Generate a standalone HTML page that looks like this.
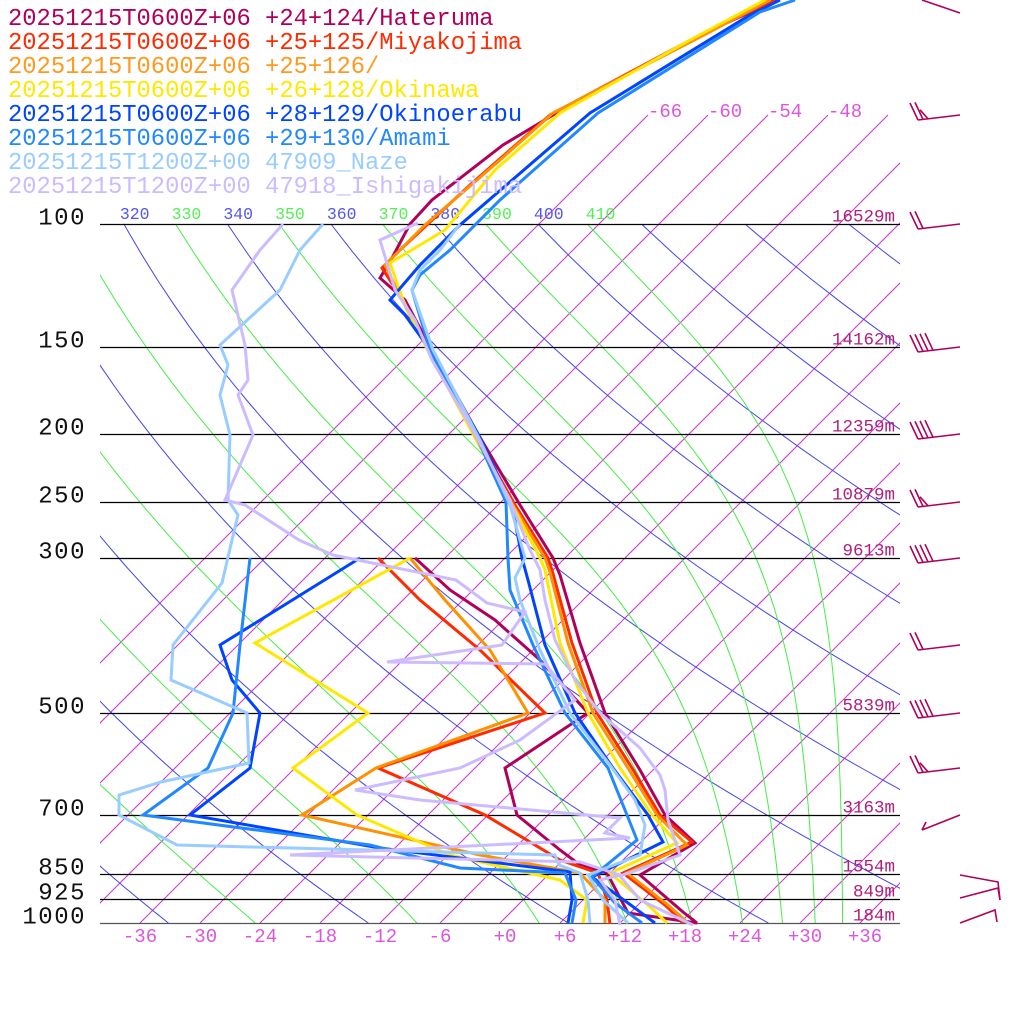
<!DOCTYPE html>
<html><head><meta charset="utf-8"><style>
html,body{margin:0;padding:0;background:#fff;}
svg{display:block;}
</style></head><body>
<svg id="s" width="1024" height="1024" xmlns="http://www.w3.org/2000/svg" font-family="Liberation Mono, monospace">
<defs>
<clipPath id="plot"><rect x="100" y="0" width="800" height="923.5"/></clipPath>
<clipPath id="lab"><rect x="100" y="195" width="800" height="30"/></clipPath>
</defs>
<rect width="1024" height="1024" fill="#fff"/>
<g id="bg" clip-path="url(#plot)"></g>
<g id="labs" clip-path="url(#lab)" font-size="16.5"></g>
<g id="hl"></g>
<g id="series" fill="none" stroke-width="3" stroke-linejoin="miter"></g>
<g id="txt"></g>
</svg>
<script>
var NS="http://www.w3.org/2000/svg";
function el(parent,tag,attrs,text){var e=document.createElementNS(NS,tag);for(var k in attrs)e.setAttribute(k,attrs[k]);if(text!==undefined)e.textContent=text;document.getElementById(parent).appendChild(e);return e;}
function Y(p){return 224+303.6*Math.log(p/100);}
function X(T,y){return 500+10*T+(923-y);}
// isotherms
for(var T=-66;T<=66;T+=6){
  var y1=923,y2=115;
  el("bg","line",{x1:X(T,y1),y1:y1,x2:X(T,y2),y2:y2,stroke:"#cc33cc","stroke-width":1});
}
function polyStr(pts){return pts.map(function(p){return p[0].toFixed(1)+","+p[1].toFixed(1);}).join(" ");}
for(var th=240;th<=520;th+=20){
  var pts=[];
  for(var p=100;p<=1000;p+=10){var t=th*Math.pow(p/1000,0.286)-273.15;var y=Y(p);pts.push([X(t,y),y]);}
  el("bg","polyline",{points:polyStr(pts),fill:"none",stroke:"#4444ee","stroke-width":1});
}
function thetae(Tk,p){var tc=Tk-273.15;var es=6.112*Math.exp(17.67*tc/(tc+243.5));var rs=0.622*es/Math.max(p-es,1);return Tk*Math.pow(1000/p,0.286)*Math.exp(2.5e6*rs/(1004*Tk));}
for(var te=250;te<=410;te+=20){
  var pts=[];
  for(var p=100;p<=1000;p+=10){
    var lo=150,hi=330;
    for(var i=0;i<50;i++){var m=(lo+hi)/2;if(thetae(m,p)>te)hi=m;else lo=m;}
    var y=Y(p);pts.push([X(lo-273.15,y),y]);
  }
  el("bg","polyline",{points:polyStr(pts),fill:"none",stroke:"#44ee44","stroke-width":1});
}
for(var th=310;th<=410;th+=10){
  var Tk=th*Math.pow(0.1,0.286);var x=X(Tk-273.15,224);
  var col=(th%20==10)?"#55ee55":"#5555ee";
  el("labs","text",{x:x-4,y:219,fill:col},String(th));
}
var plev=[[100,"16529m"],[150,"14162m"],[200,"12359m"],[250,"10879m"],[300,"9613m"],[500,"5839m"],[700,"3163m"],[850,"1554m"],[925,"849m"],[1000,"184m"]];
plev.forEach(function(a){var y=Math.round(Y(a[0]))+0.5;
  el("hl","line",{x1:100,y1:y,x2:900,y2:y,stroke:a[0]==1000?"#555":"#000","stroke-width":1.3});
  el("txt","text",{x:86,y:y,"font-size":24,"letter-spacing":"1.5","text-anchor":"end",fill:"#111"},String(a[0]));
  el("txt","text",{x:895,y:y-3,"font-size":17.5,"text-anchor":"end",fill:"#b0207a"},a[1]);
});
[-66,-60,-54,-48].forEach(function(T){el("txt","text",{x:X(T,115),y:117,"font-size":19,fill:"#dd55dd"},String(T));});
for(var T=-36;T<=36;T+=6){var s=(T>0?"+":(T==0?"+":""))+T;
  el("txt","text",{x:500+10*T+(T>=0?5:0),y:942,"font-size":19,"text-anchor":"middle",fill:"#dd55dd"},s);}
var S=[
["#b0005a",[[697,923],[683,912],[640,875],[695,843],[665,815],[640,770],[605,713],[580,643],[560,575],[553,558],[520,505],[478,434],[430,347],[405,300],[380,278],[392,258],[410,224],[432,200],[503,145],[553,115],[620,78],[700,35],[777,0]],
 [[697,923],[628,913],[607,873],[580,865],[560,850],[517,815],[505,768],[588,713],[540,660],[495,620],[450,590],[415,558]]],
["#ff2a00",[[684,923],[665,905],[623,873],[692,842],[660,815],[632,768],[597,713],[572,643],[552,570],[548,558],[515,505],[475,434],[428,347],[403,300],[382,268],[400,250],[430,222],[470,185],[550,115],[700,35],[775,0]],
 [[610,924],[607,900],[598,873],[560,860],[485,815],[378,768],[545,713],[480,650],[420,600],[378,558]]],
["#ff9000",[[688,923],[668,905],[627,873],[687,845],[657,815],[628,768],[593,713],[568,643],[550,572],[545,558],[513,505],[474,434],[427,347],[402,300],[385,265],[425,225],[500,160],[553,113],[700,37],[770,0]],
 [[605,923],[605,900],[580,873],[480,855],[302,815],[376,768],[528,713],[490,650],[445,600],[410,558]]],
["#ffe800",[[667,923],[648,905],[610,873],[677,843],[652,815],[620,768],[588,713],[560,643],[545,570],[540,558],[512,505],[473,434],[426,347],[403,300],[390,263],[445,230],[495,170],[560,113],[690,40],[765,0]],
 [[583,923],[587,900],[560,880],[450,855],[357,815],[293,768],[368,713],[255,643],[410,558]]],
["#0044ff",[[655,923],[628,903],[592,877],[663,842],[648,815],[613,768],[575,713],[545,645],[528,580],[522,558],[512,505],[478,434],[428,347],[405,315],[390,300],[420,265],[460,225],[590,113],[750,15],[780,0]],
 [[568,923],[572,900],[570,872],[380,848],[190,815],[250,768],[260,713],[232,680],[220,645],[360,558]]],
["#2288ff",[[642,923],[615,903],[592,877],[637,840],[627,815],[608,768],[565,713],[533,645],[510,590],[508,558],[506,502],[478,440],[430,350],[412,290],[420,275],[450,250],[500,200],[598,113],[760,12],[795,0]],
 [[572,923],[576,900],[565,873],[460,868],[370,845],[143,815],[208,768],[233,713],[240,645],[250,558]]],
["#99ccff",[[628,923],[603,900],[588,875],[640,855],[645,825],[635,800],[610,765],[570,713],[540,650],[520,600],[515,578],[525,558],[510,505],[480,440],[433,350],[412,290],[420,270],[440,250],[460,224]],
 [[590,923],[588,900],[580,873],[559,865],[555,855],[177,845],[119,815],[119,795],[161,782],[249,763],[247,713],[194,690],[171,680],[173,645],[222,583],[232,540],[238,515],[228,500],[230,435],[220,395],[228,365],[220,345],[280,290],[300,250],[323,224]]],
["#ccbbff",[[693,925],[640,900],[620,876],[680,855],[668,820],[665,790],[660,775],[640,748],[600,713],[575,680],[555,640],[545,600],[540,570],[530,550],[510,500],[475,434],[432,360],[415,320],[395,290],[380,240],[418,223]],
 [[620,925],[615,900],[600,880],[620,875],[580,862],[290,855],[630,838],[605,833],[620,818],[420,800],[355,790],[460,768],[520,740],[575,700],[545,664],[387,662],[502,645],[525,612],[487,603],[456,580],[333,555],[299,540],[245,505],[225,500],[253,435],[238,395],[248,380],[245,345],[232,290],[260,250],[283,224]]]
];
S.forEach(function(s){
  el("series","polyline",{points:polyStr(s[1]),stroke:s[0]});
  el("series","polyline",{points:polyStr(s[2]),stroke:s[0]});
});
var L=[["#b0005a","20251215T0600Z+06 +24+124/Hateruma"],["#ff2a00","20251215T0600Z+06 +25+125/Miyakojima"],["#ff9a20","20251215T0600Z+06 +25+126/"],["#ffe800","20251215T0600Z+06 +26+128/Okinawa"],["#0044ff","20251215T0600Z+06 +28+129/Okinoerabu"],["#2288ff","20251215T0600Z+06 +29+130/Amami"],["#99ccff","20251215T1200Z+00 47909_Naze"],["#ccbbff","20251215T1200Z+00 47918_Ishigakijima"]];
L.forEach(function(l,i){el("txt","text",{x:8,y:25+24*i,"font-size":23.8,fill:l[0]},l[1]);});
function barb(y,n,dir){
  var c="#b0005a";
  el("txt","line",{x1:960,y1:y,x2:918,y2:y+5,stroke:c,"stroke-width":1.6});
  for(var i=0;i<n;i++){var bx=918+i*5,by=y+5-i*0.6;el("txt","line",{x1:bx,y1:by,x2:bx-8,y2:by-(i==n-1&&n%2?9:17),stroke:c,"stroke-width":1.6});}
}
barb(115,3,1);barb(224,2,1);barb(347,4,1);barb(434,4,1);barb(502,3,1);barb(558,4,1);barb(645,2,1);barb(713,4,1);barb(768,3,1);
el("txt","line",{x1:922,y1:0,x2:960,y2:13,stroke:"#b0005a","stroke-width":1.6});
el("txt","line",{x1:960,y1:815,x2:922,y2:830,stroke:"#b0005a","stroke-width":1.6});
el("txt","line",{x1:922,y1:830,x2:926,y2:822,stroke:"#b0005a","stroke-width":1.6});
el("txt","polyline",{points:"960,875 998,882 1000,900",fill:"none",stroke:"#b0005a","stroke-width":1.6});
el("txt","polyline",{points:"960,898 998,888 1000,900",fill:"none",stroke:"#b0005a","stroke-width":1.6});
el("txt","polyline",{points:"960,923 995,910 997,922",fill:"none",stroke:"#b0005a","stroke-width":1.6});
</script>
</body></html>
